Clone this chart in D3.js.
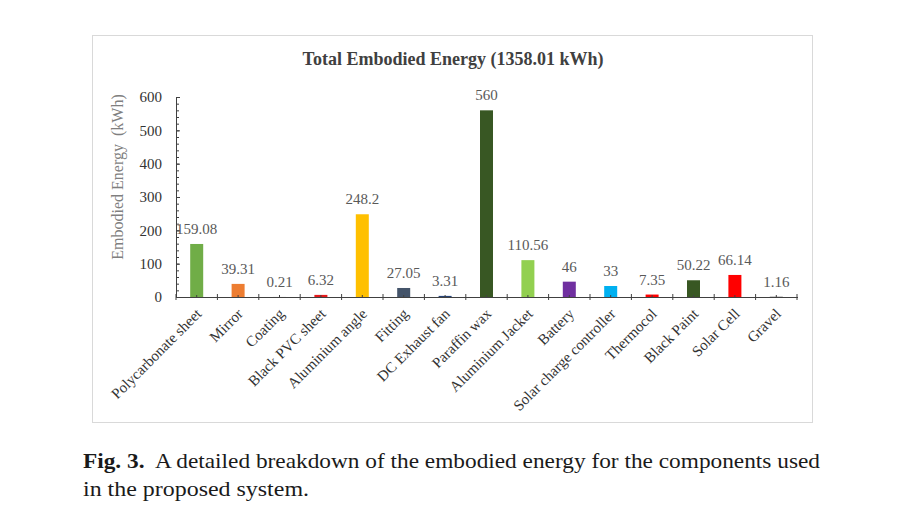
<!DOCTYPE html>
<html>
<head>
<meta charset="utf-8">
<script src="https://cdn.jsdelivr.net/npm/d3@7/dist/d3.min.js"></script>
<style>
  body { margin: 0; background: #fff; }
  svg { display: block; }
  text { font-family: "Liberation Serif", "Times New Roman", Times, serif; }
</style>
</head>
<body>
<svg id="chart" width="900" height="506"></svg>
<script>
// data
const categories = ["Polycarbonate sheet", "Mirror", "Coating", "Black PVC sheet", "Aluminium angle",
    "Fitting", "DC Exhaust fan", "Paraffin wax", "Aluminium Jacket", "Battery",
    "Solar charge controller", "Thermocol", "Black Paint", "Solar Cell", "Gravel"];
const energy = [159.08, 39.31, 0.21, 6.32, 248.2, 27.05, 3.31, 560, 110.56, 46, 33, 7.35, 50.22, 66.14, 1.16];
const barColors = ["#70ad47", "#ed7d31", "#a5a5a5", "#e31a1c", "#ffc000", "#44546a", "#264478",
    "#385723", "#92d050", "#7030a0", "#00b0f0", "#ff0000", "#385723", "#ff0000", "#7f7f7f"];
const yTicks = [0, 100, 200, 300, 400, 500, 600];

const svg = d3.select("#chart");

// frame
svg.append("rect")
    .attr("x", 92.5).attr("y", 35.5)
    .attr("width", 720).attr("height", 387)
    .attr("fill", "#fff")
    .attr("stroke", "#d9d9d9");

const plotLeft = 176, plotRight = 797, plotTop = 97, plotBottom = 297;

const x = d3.scaleBand().domain(categories).range([plotLeft, plotRight]).padding(0);
const y = d3.scaleLinear().domain([0, 600]).range([plotBottom, plotTop]);

// title
svg.append("text")
    .attr("x", 453).attr("y", 65)
    .attr("text-anchor", "middle")
    .attr("font-size", 18)
    .attr("font-weight", "bold")
    .attr("fill", "#404040")
    .text("Total Embodied Energy (1358.01 kWh)");

// bars
svg.append("g").selectAll("rect")
    .data(energy)
    .join("rect")
    .attr("x", (d, i) => x(categories[i]) + x.bandwidth() / 2 - 6.5)
    .attr("y", d => y(d))
    .attr("width", 13)
    .attr("height", d => plotBottom - y(d))
    .attr("fill", (d, i) => barColors[i]);

// bar labels
svg.append("g").selectAll("text")
    .data(energy)
    .join("text")
    .attr("x", (d, i) => x(categories[i]) + x.bandwidth() / 2)
    .attr("y", d => y(d) - 10)
    .attr("text-anchor", "middle")
    .attr("font-size", 15)
    .attr("fill", "#595959")
    .text(d => d);

// y axis
const yAxis = svg.append("g")
    .attr("transform", `translate(${plotLeft},0)`)
    .call(d3.axisLeft(y).tickValues(yTicks).tickSize(-4).tickPadding(14));
yAxis.select(".domain").attr("stroke", "#404040");
yAxis.selectAll(".tick line").attr("stroke", "#404040");
yAxis.selectAll(".tick text")
    .attr("font-family", null)
    .attr("font-size", 15)
    .attr("fill", "#333");
svg.append("g")
    .attr("transform", `translate(${plotLeft},0)`)
    .call(d3.axisRight(y).tickValues(d3.range(0, 601, 20)).tickSize(3).tickFormat(""))
    .call(g => g.select(".domain").remove())
    .selectAll("line").attr("stroke", "#404040");

// x axis
svg.append("line")
    .attr("x1", plotLeft).attr("x2", plotRight + 1)
    .attr("y1", plotBottom + 0.5).attr("y2", plotBottom + 0.5)
    .attr("stroke", "#404040");
const bounds = categories.map(c => x(c)).concat([plotRight]);
svg.append("g").selectAll("line")
    .data(bounds)
    .join("line")
    .attr("x1", d => d).attr("x2", d => d)
    .attr("y1", plotBottom - 3).attr("y2", plotBottom + 3)
    .attr("stroke", "#404040");
svg.append("g").selectAll("line")
    .data(categories)
    .join("line")
    .attr("x1", d => x(d) + x.bandwidth() / 2).attr("x2", d => x(d) + x.bandwidth() / 2)
    .attr("y1", plotBottom - 2).attr("y2", plotBottom + 0.5)
    .attr("stroke", "#404040");

// category labels
svg.append("g").selectAll("text")
    .data(categories)
    .join("text")
    .attr("transform", d => `translate(${x(d) + x.bandwidth() / 2 + 2},${plotBottom + 14}) rotate(-45)`)
    .attr("text-anchor", "end")
    .attr("dy", "0.35em")
    .attr("font-size", 15)
    .attr("fill", "#333")
    .text(d => d);

// y label
svg.append("text")
    .attr("transform", `translate(123,${(plotTop + plotBottom) / 2 - 20}) rotate(-90)`)
    .attr("text-anchor", "middle")
    .attr("font-size", 16)
    .attr("fill", "#7f7f7f")
    .attr("xml:space", "preserve")
    .text("Embodied Energy  (kWh)");

// caption
const cap1 = svg.append("text")
    .attr("x", 83).attr("y", 468)
    .attr("font-size", 22)
    .attr("fill", "#1a1a1a")
    .attr("textLength", 737)
    .attr("lengthAdjust", "spacingAndGlyphs")
    .attr("xml:space", "preserve");
cap1.append("tspan").attr("font-weight", "bold").text("Fig. 3.");
cap1.append("tspan").text("  A detailed breakdown of the embodied energy for the components used");
svg.append("text")
    .attr("x", 83).attr("y", 496)
    .attr("font-size", 22)
    .attr("fill", "#1a1a1a")
    .attr("textLength", 226)
    .attr("lengthAdjust", "spacingAndGlyphs")
    .text("in the proposed system.");
</script>
</body>
</html>
